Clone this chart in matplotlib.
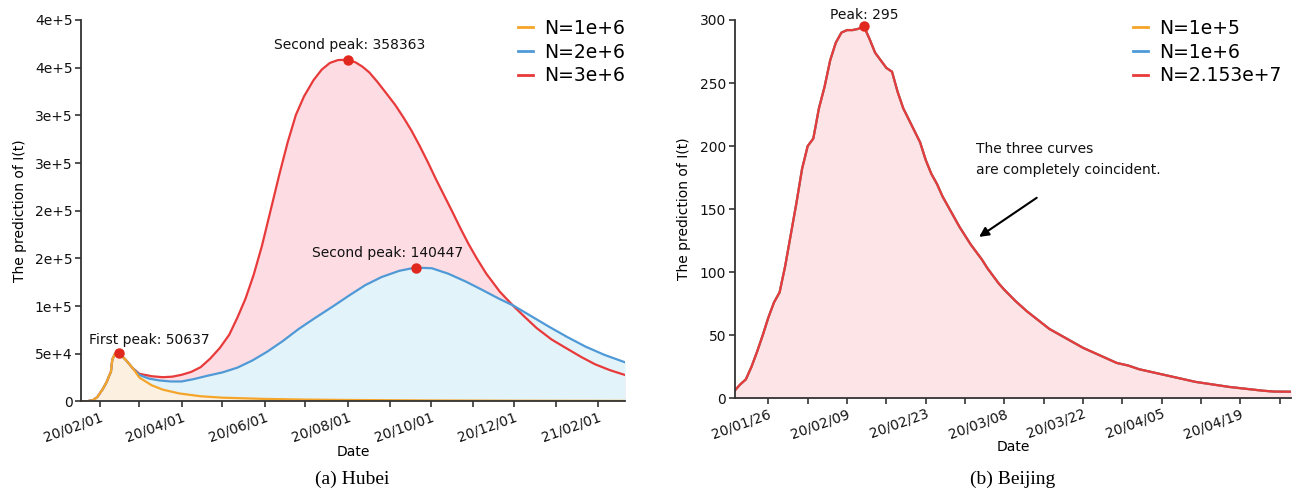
import matplotlib
matplotlib.use("Agg")
import matplotlib.pyplot as plt
import matplotlib.dates as mdates
from matplotlib.lines import Line2D
import pandas as pd

# ---------------- (a) Hubei ----------------
# shared start of the three curves (they coincide until late February)
hb_early_dates = ["2020-01-18", "2020-01-23", "2020-01-27", "2020-01-30", "2020-02-03",
                  "2020-02-06", "2020-02-08", "2020-02-09", "2020-02-10", "2020-02-12",
                  "2020-02-15", "2020-02-20", "2020-02-25"]
hb_early_vals = [0, 400, 1500, 4700, 13000, 20800, 28000, 31000, 44000, 50000,
                 50637, 43500, 35000]

hb_n1_dates = ["2020-03-01", "2020-03-10", "2020-03-18", "2020-03-30", "2020-04-15",
               "2020-05-01", "2020-06-01", "2020-07-01", "2020-08-01", "2020-10-01",
               "2020-12-01", "2021-02-21"]
hb_n1_vals = [25000, 17000, 12500, 8500, 5500, 4000, 2700, 2000, 1600, 1100, 800, 600]

hb_n2_dates = ["2020-03-01", "2020-03-08", "2020-03-16", "2020-03-24", "2020-04-01",
               "2020-04-10", "2020-04-20", "2020-05-01", "2020-05-12", "2020-05-23",
               "2020-06-03", "2020-06-14", "2020-06-26", "2020-07-08", "2020-07-21",
               "2020-08-02", "2020-08-14", "2020-08-26", "2020-09-08", "2020-09-20",
               "2020-10-02", "2020-10-14", "2020-10-27", "2020-11-08", "2020-11-20",
               "2020-12-01", "2020-12-14", "2020-12-27", "2021-01-09", "2021-01-23",
               "2021-02-06", "2021-02-21"]
hb_n2_vals = [27800, 24000, 22000, 21000, 21000, 23500, 27000, 30500, 35500, 43000,
              52300, 63000, 76000, 87500, 99500, 111000, 122000, 130500, 137000, 140447,
              139700, 134000, 125700, 117000, 108000, 100500, 89500, 78500, 68000, 57500,
              48800, 41100]

hb_n3_dates = ["2020-03-01", "2020-03-10", "2020-03-18", "2020-03-25", "2020-04-01",
               "2020-04-08", "2020-04-15", "2020-04-22", "2020-04-29", "2020-05-06",
               "2020-05-12", "2020-05-18", "2020-05-24", "2020-05-30", "2020-06-05",
               "2020-06-12", "2020-06-18", "2020-06-24", "2020-06-30", "2020-07-07",
               "2020-07-13", "2020-07-19", "2020-07-25", "2020-08-01", "2020-08-07",
               "2020-08-12", "2020-08-17", "2020-08-23", "2020-08-29", "2020-09-05",
               "2020-09-11", "2020-09-17", "2020-09-23", "2020-09-29", "2020-10-05",
               "2020-10-11", "2020-10-17", "2020-10-23", "2020-10-29", "2020-11-04",
               "2020-11-11", "2020-11-21", "2020-12-01", "2020-12-09", "2020-12-18",
               "2020-12-29", "2021-01-11", "2021-01-20", "2021-01-30", "2021-02-10",
               "2021-02-21"]
hb_n3_vals = [29000, 26500, 25500, 26000, 28000, 31000, 36000, 45000, 56000, 70000,
              88000, 108000, 133000, 163000, 198000, 239000, 272000, 300500, 320000, 337000,
              348000, 355000, 358000, 358363, 355500, 351000, 345000, 335000, 324000, 311000,
              298000, 284000, 268000, 251000, 233000, 216000, 199000, 181500, 165000, 150000,
              134000, 115000, 100000, 89000, 77000, 65000, 54000, 46500, 39000, 32800,
              27800]

hb_labels = ["N=1e+6", "N=2e+6", "N=3e+6"]
hb_yticks = [0, 50000, 100000, 150000, 200000, 250000, 300000, 350000, 400000]
hb_yticklabels = ["0", "5e+4", "1e+5", "2e+5", "2e+5", "3e+5", "3e+5", "4e+5", "4e+5"]
hb_peaks = [("2020-02-15", 50637, "First peak: 50637", "2020-01-24", 64500),
            ("2020-08-01", 358363, "Second peak: 358363", "2020-06-08", 374000),
            ("2020-09-20", 140447, "Second peak: 140447", "2020-07-06", 155300)]

# ---------------- (b) Beijing ----------------
bj_dates = ["2020-01-20", "2020-01-21", "2020-01-22", "2020-01-23", "2020-01-24",
            "2020-01-25", "2020-01-26", "2020-01-27", "2020-01-28", "2020-01-29",
            "2020-01-30", "2020-01-31", "2020-02-01", "2020-02-02", "2020-02-03",
            "2020-02-04", "2020-02-05", "2020-02-06", "2020-02-07", "2020-02-08",
            "2020-02-09", "2020-02-10", "2020-02-11", "2020-02-12", "2020-02-13",
            "2020-02-14", "2020-02-15", "2020-02-16", "2020-02-17", "2020-02-18",
            "2020-02-19", "2020-02-20", "2020-02-21", "2020-02-22", "2020-02-23",
            "2020-02-24", "2020-02-25", "2020-02-26", "2020-02-27", "2020-02-28",
            "2020-02-29", "2020-03-01", "2020-03-02", "2020-03-03", "2020-03-04",
            "2020-03-05", "2020-03-06", "2020-03-07", "2020-03-08", "2020-03-10",
            "2020-03-12", "2020-03-14", "2020-03-16", "2020-03-18", "2020-03-20",
            "2020-03-22", "2020-03-24", "2020-03-26", "2020-03-28", "2020-03-30",
            "2020-04-01", "2020-04-03", "2020-04-05", "2020-04-08", "2020-04-11",
            "2020-04-14", "2020-04-17", "2020-04-20", "2020-04-23", "2020-04-25",
            "2020-04-28"]
bj_vals = [6, 11, 15, 25, 37, 50, 64, 76, 84, 105,
           130, 155, 182, 200, 206, 230, 247, 268, 282, 290,
           292, 292, 293, 295, 285, 274, 268, 262, 259, 243,
           230, 221, 212, 203, 189, 178, 170, 160, 152, 144,
           136, 129, 122, 116, 110, 103, 97, 91, 86, 77,
           69, 62, 55, 50, 45, 40, 36, 32, 28, 26,
           23, 21, 19, 16, 13, 11, 9, 7.5, 6, 5.3,
           5.2]
bj_labels = ["N=1e+5", "N=1e+6", "N=2.153e+7"]
bj_peak = ("2020-02-12", 295, "Peak: 295")
bj_note = "The three curves\nare completely coincident."

ORANGE, BLUE, RED = "#F5A52A", "#4F9AD6", "#E83A3A"
DOT = "#E0281E"
AXC = "#333333"


def style_axis(ax):
    for side in ("top", "right"):
        ax.spines[side].set_visible(False)
    for side in ("left", "bottom"):
        ax.spines[side].set_color(AXC)
        ax.spines[side].set_linewidth(1.3)
    ax.tick_params(which="both", length=4, width=1.2, color=AXC, labelsize=10,
                   labelcolor="#111111", pad=2)


fig = plt.figure(figsize=(13, 4.95), dpi=100)
ax1 = fig.add_axes([0.0623, 0.1889, 0.4185, 0.7707])
ax2 = fig.add_axes([0.5651, 0.1954, 0.4280, 0.7642])

# ---- left panel ----
early_d = pd.to_datetime(hb_early_dates)
n1_d = early_d.append(pd.to_datetime(hb_n1_dates))
n2_d = early_d.append(pd.to_datetime(hb_n2_dates))
n3_d = early_d.append(pd.to_datetime(hb_n3_dates))
n1_v = hb_early_vals + hb_n1_vals
n2_v = hb_early_vals + hb_n2_vals
n3_v = hb_early_vals + hb_n3_vals

ax1.fill_between(n3_d, n3_v, color="#FDDDE3", lw=0)
ax1.fill_between(n2_d, n2_v, color="#E3F3FA", lw=0)
ax1.fill_between(n1_d, n1_v, color="#FCF1E0", lw=0)
ax1.plot(n3_d, n3_v, color=RED, lw=1.6)
ax1.plot(n2_d, n2_v, color=BLUE, lw=1.6)
ax1.plot(n1_d, n1_v, color=ORANGE, lw=1.6)

for pd_, pv, txt, td, tv in hb_peaks:
    ax1.plot(pd.Timestamp(pd_), pv, "o", color=DOT, ms=6.5, zorder=5)
    ax1.text(pd.Timestamp(td), tv, txt, fontsize=10, ha="left", va="center", color="#111111")

style_axis(ax1)
ax1.set_xlim(n1_d[0], n1_d[-1])
ax1.set_ylim(0, 400000)
ax1.set_yticks(hb_yticks)
ax1.set_yticklabels(hb_yticklabels)
ax1.xaxis.set_major_locator(mdates.MonthLocator(bymonth=[2, 4, 6, 8, 10, 12]))
ax1.xaxis.set_minor_locator(mdates.MonthLocator())
ax1.xaxis.set_major_formatter(mdates.DateFormatter("%y/%m/%d"))
plt.setp(ax1.get_xticklabels(), rotation=20, ha="right", rotation_mode="anchor")
ax1.set_xlabel("Date", fontsize=10)
ax1.set_ylabel("The prediction of I(t)", fontsize=10)
ax1.xaxis.set_label_coords(0.5, -0.114)
ax1.yaxis.set_label_coords(-0.100, 0.5)

h1 = [Line2D([], [], color=c, lw=2) for c in (ORANGE, BLUE, RED)]
ax1.legend(h1, hb_labels, loc="upper left", bbox_to_anchor=(518 / 1300, 1 - 19 / 495),
           bbox_transform=fig.transFigure, frameon=False, fontsize=13.5,
           handlelength=0.8, handletextpad=0.6, labelspacing=0.25,
           borderpad=0, borderaxespad=0)

# ---- right panel ----
bj_d = pd.to_datetime(bj_dates)
ax2.fill_between(bj_d, bj_vals, color="#FDE4E7", lw=0)
for c in (ORANGE, BLUE, RED):
    ax2.plot(bj_d, bj_vals, color=c, lw=1.6)
ax2.plot(pd.Timestamp(bj_peak[0]), bj_peak[1], "o", color=DOT, ms=6.5, zorder=5, clip_on=False)
ax2.text(pd.Timestamp(bj_peak[0]), 304, bj_peak[2], fontsize=10, ha="center", va="center",
         color="#111111")
ax2.text(pd.Timestamp("2020-03-03"), 203, bj_note, fontsize=10, ha="left", va="top",
         linespacing=1.6, color="#111111")
ax2.annotate("", xy=(pd.Timestamp("2020-03-03 12:00"), 128),
             xytext=(pd.Timestamp("2020-03-13 18:00"), 159),
             arrowprops=dict(arrowstyle="-|>", color="black", lw=1.5, mutation_scale=14,
                             shrinkA=0, shrinkB=0))

style_axis(ax2)
ax2.set_xlim(bj_d[0], bj_d[-1])
ax2.set_ylim(0, 300)
ax2.set_yticks([0, 50, 100, 150, 200, 250, 300])
ax2.set_xticks(pd.date_range("2020-01-26", "2020-04-26", freq="14D"))
ax2.set_xticks(pd.date_range("2020-02-02", "2020-04-26", freq="14D"), minor=True)
ax2.xaxis.set_major_formatter(mdates.DateFormatter("%y/%m/%d"))
plt.setp(ax2.get_xticklabels(), rotation=20, ha="right", rotation_mode="anchor")
ax2.set_xlabel("Date", fontsize=10)
ax2.set_ylabel("The prediction of I(t)", fontsize=10)
ax2.xaxis.set_label_coords(0.5, -0.110)
ax2.yaxis.set_label_coords(-0.078, 0.5)

h2 = [Line2D([], [], color=c, lw=2) for c in (ORANGE, BLUE, RED)]
ax2.legend(h2, bj_labels, loc="upper left", bbox_to_anchor=(1133 / 1300, 1 - 19 / 495),
           bbox_transform=fig.transFigure, frameon=False, fontsize=13.5,
           handlelength=0.8, handletextpad=0.6, labelspacing=0.25,
           borderpad=0, borderaxespad=0)

fig.text(352 / 1300, 1 - 479 / 495, "(a) Hubei", family="Liberation Serif", fontsize=14,
         ha="center", va="center")
fig.text(1013 / 1300, 1 - 479 / 495, "(b) Beijing", family="Liberation Serif", fontsize=14,
         ha="center", va="center")

fig.savefig("out.png", dpi=100)
